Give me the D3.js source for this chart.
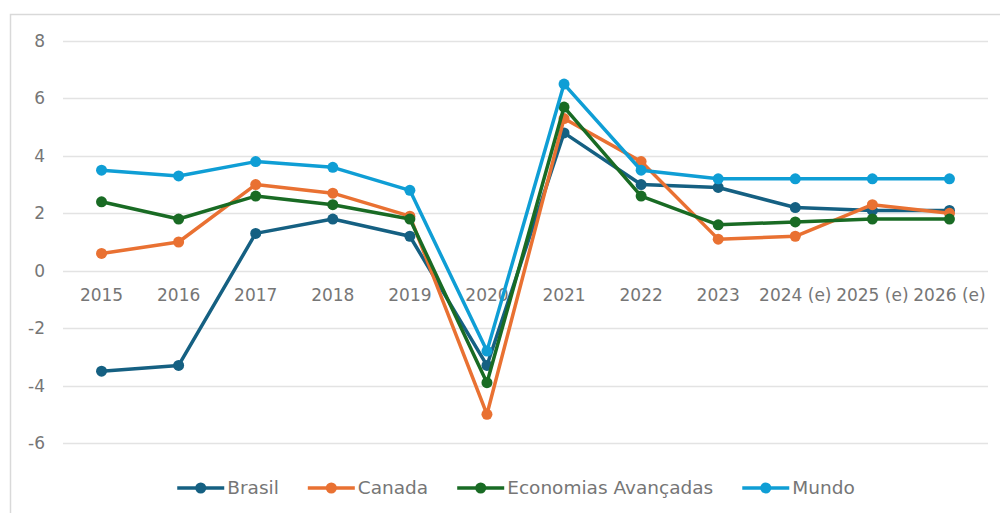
<!DOCTYPE html>
<html>
<head>
<meta charset="utf-8">
<script src="https://cdn.jsdelivr.net/npm/d3@7"></script>
<style>
  html, body { margin: 0; padding: 0; background: #fff; }
  svg text { font-family: "DejaVu Sans", sans-serif; fill: #767676; }
</style>
</head>
<body>
<div id="chart"></div>
<script>
// growth rates, % per year
const years = ["2015", "2016", "2017", "2018", "2019", "2020", "2021", "2022", "2023", "2024 (e)", "2025 (e)", "2026 (e)"];
const brasil = [-3.5, -3.3, 1.3, 1.8, 1.2, -3.3, 4.8, 3.0, 2.9, 2.2, 2.1, 2.1];
const canada = [0.6, 1.0, 3.0, 2.7, 1.9, -5.0, 5.3, 3.8, 1.1, 1.2, 2.3, 2.0];
const economias = [2.4, 1.8, 2.6, 2.3, 1.8, -3.9, 5.7, 2.6, 1.6, 1.7, 1.8, 1.8];
const mundo = [3.5, 3.3, 3.8, 3.6, 2.8, -2.8, 6.5, 3.5, 3.2, 3.2, 3.2, 3.2];
const yTicks = [-6, -4, -2, 0, 2, 4, 6, 8];

const series = [
  {name: "Brasil", values: brasil, color: "#156082"},
  {name: "Canada", values: canada, color: "#E97132"},
  {name: "Economias Avançadas", values: economias, color: "#196B24"},
  {name: "Mundo", values: mundo, color: "#0F9ED5"}
];

const width = 1000, height = 513;
const margin = {top: 41, right: 12, bottom: 70, left: 63};

const svg = d3.select("#chart").append("svg")
  .attr("width", width)
  .attr("height", height);

// outer chart frame (left + top visible)
svg.append("path")
  .attr("d", `M10.5,${height} V14.5 H${width}`)
  .attr("fill", "none")
  .attr("stroke", "#d9d9d9")
  .attr("stroke-width", 1.5);

const x = d3.scaleBand()
  .domain(years)
  .range([margin.left, width - margin.right]);

const y = d3.scaleLinear()
  .domain([-6, 8])
  .range([443, 41]);

// gridlines
svg.append("g")
  .selectAll("line")
  .data(yTicks)
  .join("line")
  .attr("x1", margin.left)
  .attr("x2", width - margin.right)
  .attr("y1", d => Math.round(y(d)) + 0.5)
  .attr("y2", d => Math.round(y(d)) + 0.5)
  .attr("stroke", "#e3e3e3")
  .attr("stroke-width", 1.5);

// y axis labels (plain hyphen for negatives, like the source)
const yAxis = svg.append("g")
  .attr("transform", `translate(${margin.left},0)`)
  .call(d3.axisLeft(y).tickValues(yTicks).tickSize(0).tickPadding(18).tickFormat(d => String(d)));
yAxis.select(".domain").remove();
yAxis.selectAll("text")
  .attr("font-size", 17)
  .attr("font-family", "DejaVu Sans, sans-serif")
  .attr("fill", "#767676");

// x axis labels sit just under the zero line
const xAxis = svg.append("g")
  .attr("transform", `translate(0,${y(0)})`)
  .call(d3.axisBottom(x).tickSize(0).tickPadding(18));
xAxis.select(".domain").remove();
xAxis.selectAll("text")
  .attr("font-size", 17)
  .attr("font-family", "DejaVu Sans, sans-serif")
  .attr("fill", "#767676");

const cx = (d, i) => x(years[i]) + x.bandwidth() / 2;

const line = d3.line()
  .x(cx)
  .y(d => y(d));

series.forEach(s => {
  const g = svg.append("g");
  g.append("path")
    .datum(s.values)
    .attr("fill", "none")
    .attr("stroke", s.color)
    .attr("stroke-width", 3.5)
    .attr("stroke-linejoin", "round")
    .attr("d", line);
  g.selectAll("circle")
    .data(s.values)
    .join("circle")
    .attr("cx", cx)
    .attr("cy", d => y(d))
    .attr("r", 5.5)
    .attr("fill", s.color);
});

// legend
const legend = svg.append("g").attr("transform", "translate(0,488)");
let lx = 0;
series.forEach(s => {
  const it = legend.append("g").attr("transform", `translate(${lx},0)`);
  it.append("line")
    .attr("x1", 0).attr("x2", 47)
    .attr("stroke", s.color)
    .attr("stroke-width", 3.5);
  it.append("circle")
    .attr("cx", 23.5).attr("r", 5.5)
    .attr("fill", s.color);
  const t = it.append("text")
    .attr("x", 50)
    .attr("dy", "0.35em")
    .attr("font-size", 18.5)
    .text(s.name);
  lx += 50 + t.node().getComputedTextLength() + 29;
});
const legendWidth = lx - 29;
legend.attr("transform", `translate(${516 - legendWidth / 2},488)`);
</script>
</body>
</html>
